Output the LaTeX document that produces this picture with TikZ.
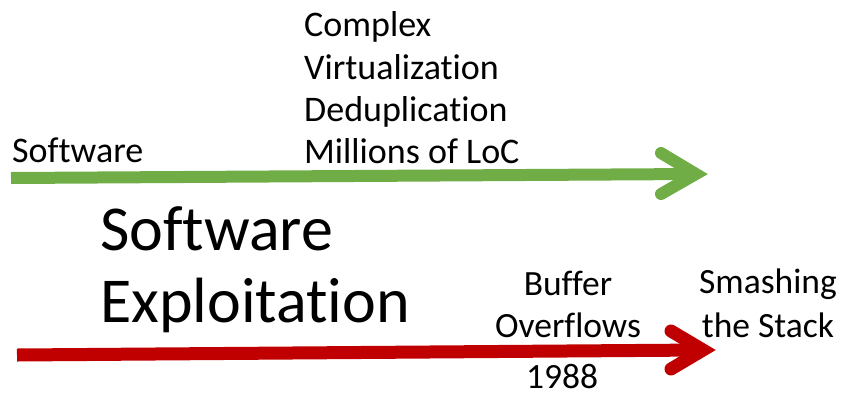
\documentclass[tikz,border=0pt]{standalone}
\usepackage{fontspec}
\setmainfont[Ligatures=NoCommon]{Carlito}
\definecolor{arrgreen}{HTML}{70AD47}
\definecolor{arrred}{HTML}{C00000}
\begin{document}
\begin{tikzpicture}[x=1pt,y=-1pt,
  lbl/.style={inner sep=0pt,anchor=base west,font=\fontsize{36}{42}\selectfont},
  lblc/.style={inner sep=0pt,anchor=base,font=\fontsize{35.5}{42}\selectfont},
  big/.style={inner sep=0pt,anchor=base west,font=\fontsize{64}{72}\selectfont},
  shaft/.style={line width=#1,line cap=butt},
  head/.style={line width=#1,line cap=round,line join=miter}]
\useasboundingbox (0,0) rectangle (845,397);
% green arrow
\coordinate (g0) at (11,178);
\coordinate (g1) at (696,174);
\coordinate (ga) at (661,153);
\coordinate (gb) at (661,194);
\draw[arrgreen,shaft=12pt] (g0) -- (g1);
\draw[arrgreen,head=12pt] (ga) -- (g1) -- (gb);
% red arrow
\coordinate (r0) at (17,355);
\coordinate (r1) at (703,350);
\coordinate (ra) at (671,331);
\coordinate (rb) at (671,369);
\draw[arrred,shaft=13pt] (r0) -- (r1);
\draw[arrred,head=13pt] (ra) -- (r1) -- (rb);
% texts
\node[lbl] (sw) at (12,162) {Software};
\node[lbl] (l1) at (304,36) {Complex};
\node[lbl] (l2) at (304,79) {Virtualization};
\node[lbl] (l3) at (304,121) {Deduplication};
\node[lbl] (l4) at (304,163) {Millions of LoC};
\node[big] (b1) at (100,250) {Software};
\node[big] (b2) at (100,322) {Exploitation};
\node[lblc] (bf1) at (568,295) {Buffer};
\node[lblc] (bf2) at (568,337) {Overflows};
\node[lblc] (yr) at (562,388) {1988};
\node[lblc] (sm1) at (768,293) {Smashing};
\node[lblc] (sm2) at (768,337) {the Stack};
\end{tikzpicture}
\end{document}
